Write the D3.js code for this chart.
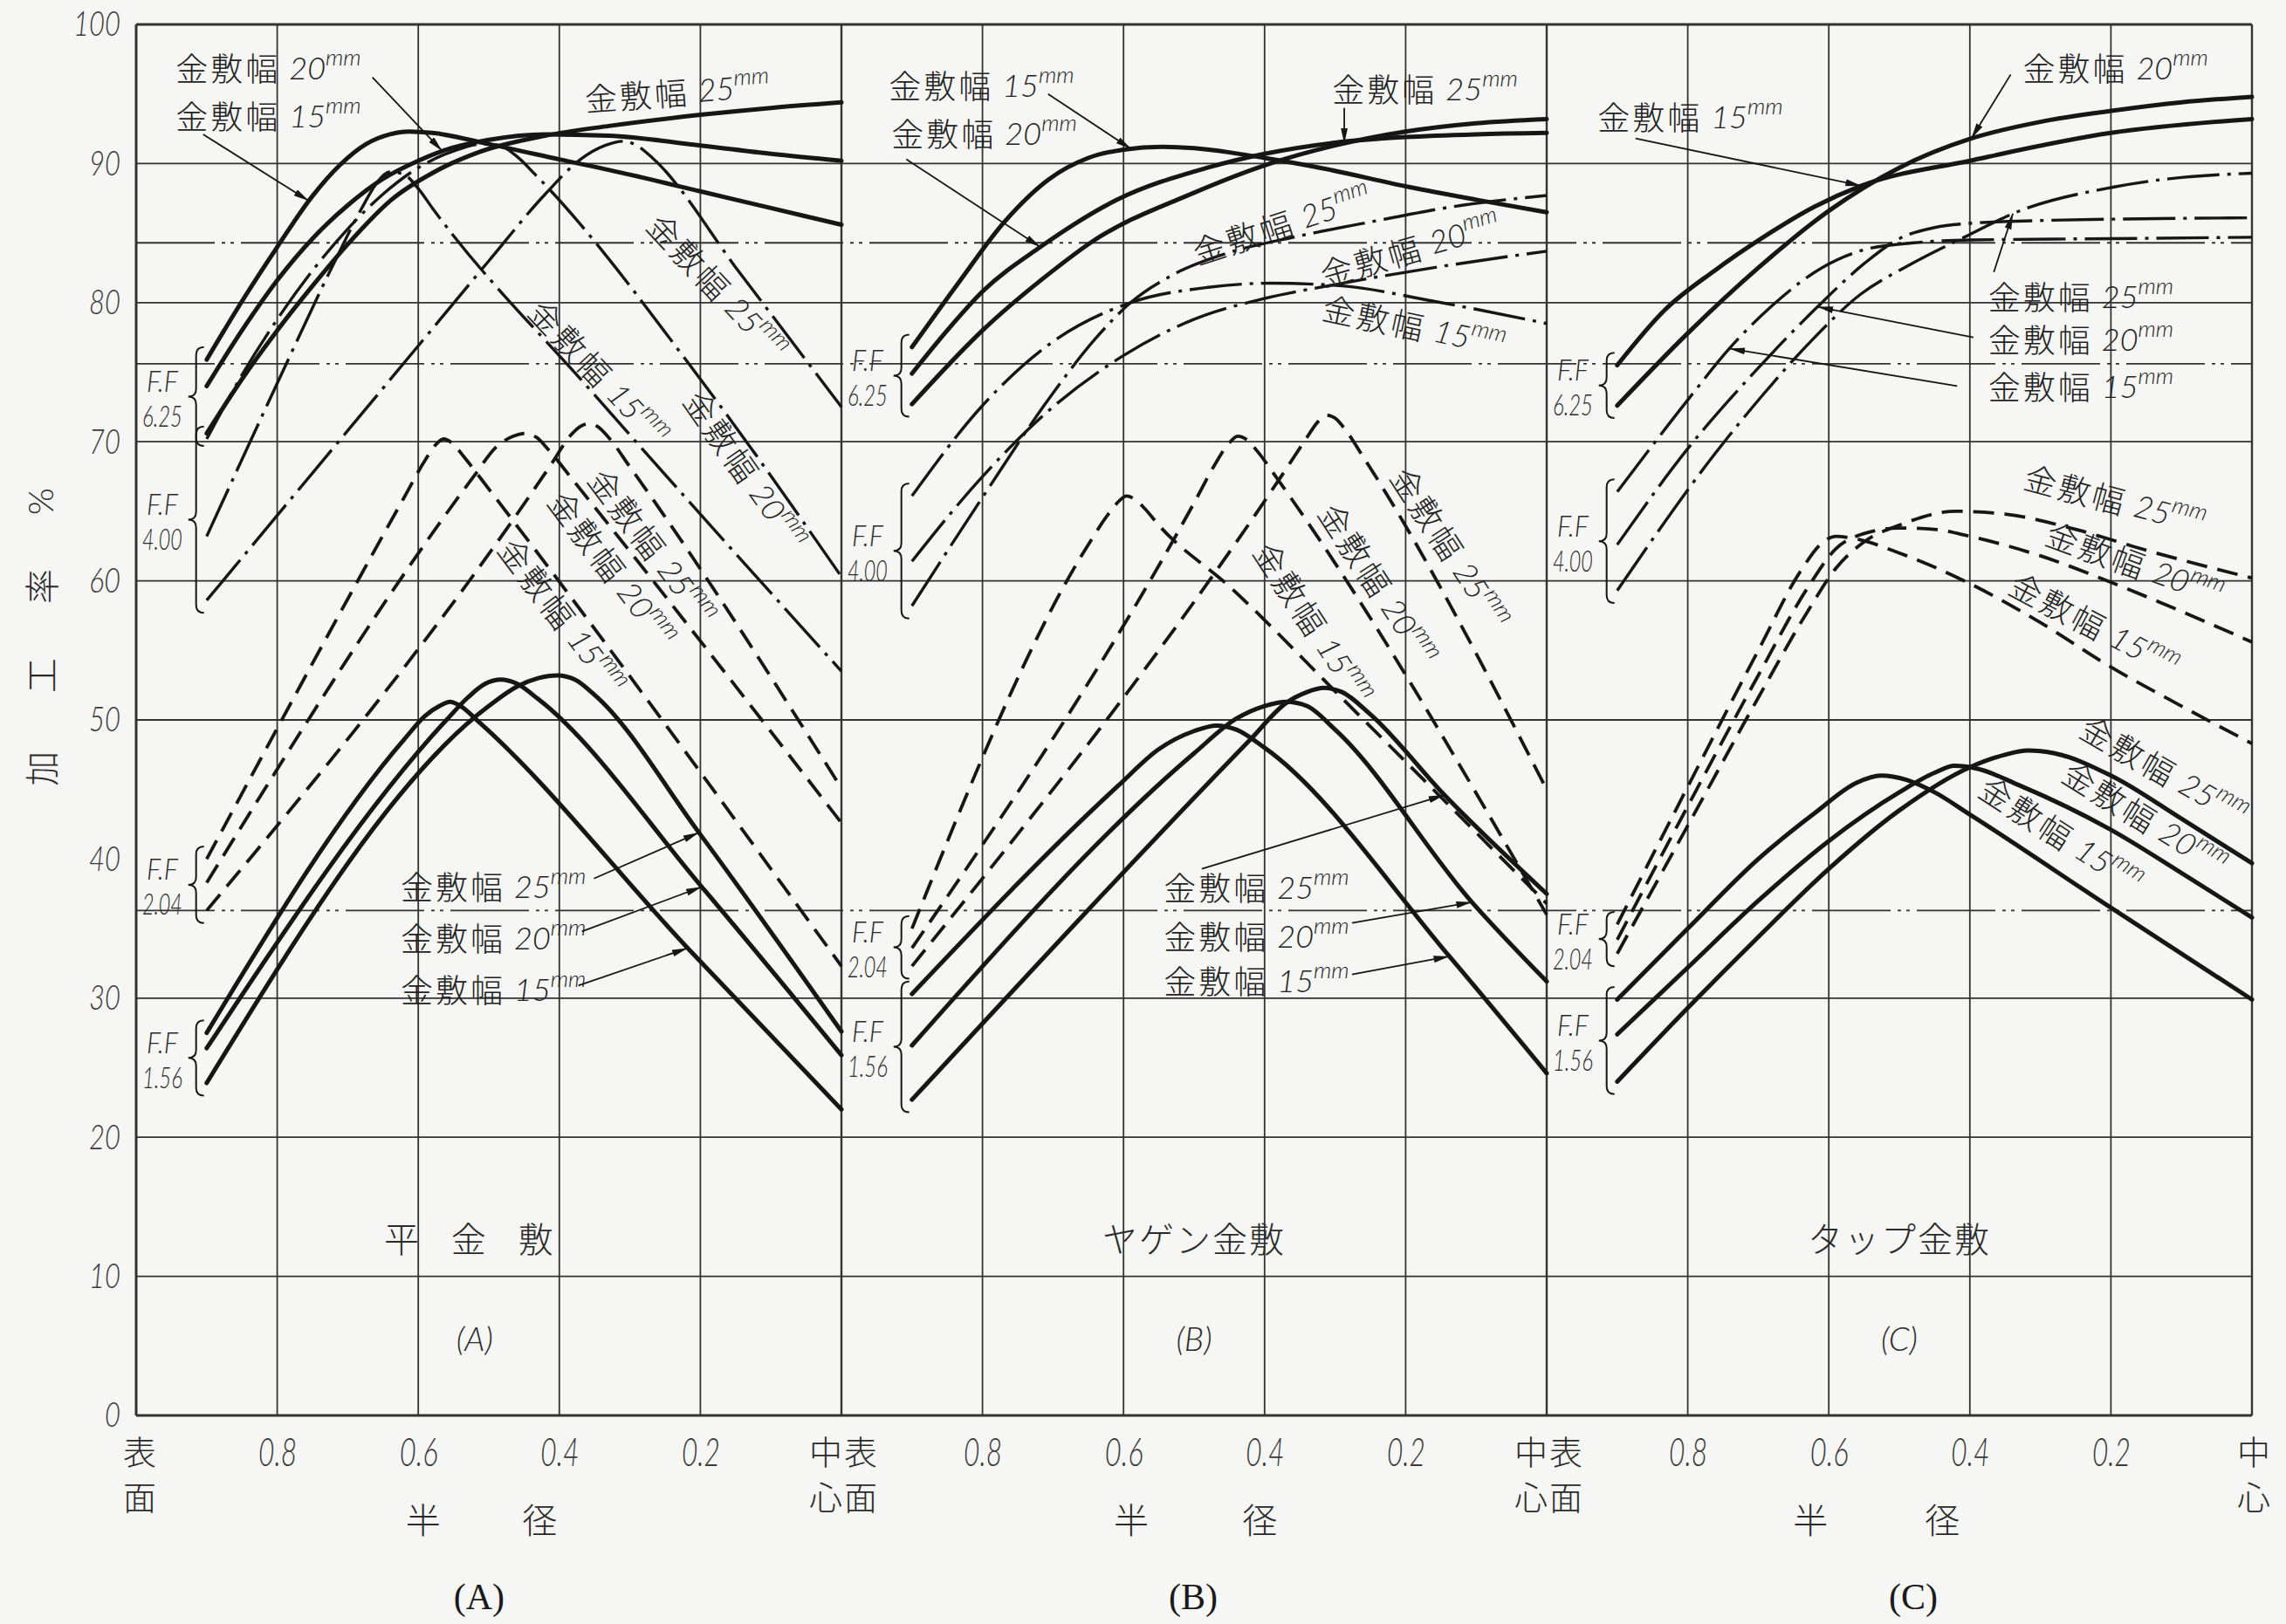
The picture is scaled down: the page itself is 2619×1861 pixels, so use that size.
<!DOCTYPE html>
<html><head><meta charset="utf-8">
<script src="https://cdn.jsdelivr.net/npm/d3@7"></script>
<style>
html,body{margin:0;padding:0;background:#f6f6f4;}
svg{display:block;}
</style></head><body>
<svg id="chart" width="2619" height="1861"></svg>
<script>
// ---------------- DATA (r = 半径比 1:表面 → 0:中心, v = 加工率 %) ----------------
const yTicks = [0,10,20,30,40,50,60,70,80,90,100];
const yTickLabels = ["0","10","20","30","40","50","60","70","80","90","100"];
const xTicks = [0.8,0.6,0.4,0.2];
const xTickLabels = ["0.8","0.6","0.4","0.2"];
const gridY = [10,20,30,50,60,70,80,90];
const refY = [84.3,75.6,36.3];
const panelTitles = ["平 金 敷","ヤゲン金敷","タップ金敷"];
const panelTags = ["(A)","(B)","(C)"];
const ffValues = ["6.25","4.00","2.04","1.56"];
const widthNames = ["15","20","25"];

// Panel A 平金敷
const A625_15 = [[0.9,75.9],[0.85,80.1],[0.8,84.0],[0.751,87.6],[0.711,89.9],[0.674,91.4],[0.64,92.1],[0.613,92.3],[0.58,92.2],[0.5,91.4],[0.4,90.3],[0.3,89.2],[0.2,88.0],[0.1,86.8],[0,85.6]];
const A625_20 = [[0.9,74.0],[0.85,78.0],[0.8,81.6],[0.75,84.6],[0.7,87.0],[0.65,88.9],[0.6,90.2],[0.566,90.9],[0.5,91.7],[0.42,92.1],[0.33,92.0],[0.2,91.3],[0.1,90.7],[0,90.2]];
const A625_25 = [[0.9,70.6],[0.85,74.5],[0.8,78.0],[0.75,81.2],[0.7,84.2],[0.638,87.4],[0.577,89.4],[0.515,90.8],[0.42,92.0],[0.33,92.7],[0.2,93.5],[0.1,94.0],[0,94.4]];
const A400_15 = [[0.9,63.2],[0.8,74.2],[0.72,82.8],[0.68,86.8],[0.656,88.8],[0.64,89.4],[0.62,89.2],[0.6,88.2],[0.58,86.8],[0.354,73.6],[0,53.5]];
const A400_20 = [[0.9,70.2],[0.85,74.8],[0.8,78.8],[0.75,82.3],[0.7,85.3],[0.65,87.8],[0.6,89.7],[0.55,90.9],[0.51,91.4],[0.485,91.3],[0.46,90.5],[0.434,89.2],[0.2,74.5],[0,60.3]];
const A400_25 = [[0.9,58.6],[0.8,64.7],[0.7,70.8],[0.6,76.9],[0.5,83.0],[0.42,87.8],[0.37,90.3],[0.335,91.3],[0.31,91.6],[0.29,91.3],[0.268,90.4],[0.145,82.2],[0,72.5]];
const A204_15 = [[0.9,40.0],[0.62,66.0],[0.59,68.7],[0.575,69.8],[0.564,70.2],[0.552,69.9],[0.535,68.9],[0.5,66.6],[0,32.3]];
const A204_20 = [[0.9,38.3],[0.52,67.6],[0.49,69.6],[0.465,70.4],[0.447,70.6],[0.432,70.3],[0.415,69.4],[0.38,67.2],[0,42.6]];
const A204_25 = [[0.9,36.3],[0.41,68.5],[0.385,70.4],[0.37,71.1],[0.358,71.3],[0.346,71.1],[0.33,70.3],[0.3,68.2],[0,45.1]];
const A156_15 = [[0.9,27.5],[0.62,48.6],[0.59,50.3],[0.57,51.0],[0.555,51.3],[0.54,51.0],[0.515,49.9],[0.218,33.6],[0,22.0]];
const A156_20 = [[0.9,26.4],[0.56,50.0],[0.53,51.6],[0.505,52.6],[0.483,52.9],[0.46,52.6],[0.43,51.5],[0.198,38.0],[0,25.9]];
const A156_25 = [[0.9,23.9],[0.5,51.0],[0.46,52.4],[0.43,53.0],[0.403,53.2],[0.378,52.9],[0.35,51.8],[0.202,41.9],[0,27.6]];

// Panel B ヤゲン金敷
const B625_15 = [[0.9,76.8],[0.833,81.5],[0.769,85.8],[0.705,88.9],[0.65,90.4],[0.6,91.0],[0.545,91.2],[0.5,91.1],[0.45,90.8],[0.4,90.4],[0.322,89.7],[0.194,88.3],[0.1,87.4],[0,86.5]];
const B625_20 = [[0.9,74.9],[0.85,78.0],[0.8,80.8],[0.718,84.0],[0.609,87.4],[0.481,89.7],[0.4,90.7],[0.3,91.5],[0.2,91.9],[0.1,92.1],[0,92.2]];
const B625_25 = [[0.9,72.7],[0.8,78.0],[0.7,82.3],[0.647,84.3],[0.5,87.9],[0.392,90.0],[0.3,91.3],[0.2,92.3],[0.1,92.9],[0,93.2]];
const B400_15 = [[0.9,66.1],[0.8,72.6],[0.7,77.2],[0.59,80.0],[0.48,81.1],[0.39,81.4],[0.29,81.2],[0.16,80.1],[0,78.5]];
const B400_20 = [[0.9,61.4],[0.8,67.5],[0.7,72.5],[0.6,76.2],[0.5,78.8],[0.4,80.3],[0.3,81.3],[0.15,82.6],[0,83.7]];
const B400_25 = [[0.9,58.2],[0.8,66.0],[0.7,73.5],[0.64,77.4],[0.59,80.0],[0.53,82.0],[0.45,83.6],[0.35,84.8],[0.25,85.8],[0.12,87.0],[0,87.7]];
const B204_15 = [[0.9,35.0],[0.65,62.6],[0.62,64.9],[0.605,65.8],[0.596,66.1],[0.585,65.9],[0.57,65.2],[0.55,64.0],[0.45,59.6],[0.287,51.4],[0,36.8]];
const B204_20 = [[0.9,33.6],[0.5,65.6],[0.47,68.4],[0.452,69.8],[0.438,70.4],[0.424,70.1],[0.41,69.3],[0.38,67.2],[0,36.0]];
const B204_25 = [[0.9,32.3],[0.37,68.0],[0.34,70.3],[0.325,71.4],[0.312,71.9],[0.3,71.7],[0.286,70.9],[0.26,68.9],[0,45.0]];
const B156_15 = [[0.9,30.3],[0.607,45.3],[0.55,47.9],[0.5,49.2],[0.468,49.6],[0.44,49.3],[0.4,48.0],[0.138,33.0],[0,24.6]];
const B156_20 = [[0.9,26.6],[0.5,47.6],[0.44,50.1],[0.4,51.0],[0.369,51.3],[0.34,51.0],[0.3,49.3],[0.106,36.9],[0,31.2]];
const B156_25 = [[0.9,22.7],[0.42,48.6],[0.37,51.2],[0.34,52.0],[0.316,52.3],[0.29,52.0],[0.25,50.4],[0.145,44.6],[0,37.5]];

// Panel C タップ金敷
const C625_15 = [[0.9,75.5],[0.832,79.5],[0.762,82.3],[0.693,84.7],[0.62,86.9],[0.554,88.4],[0.4,90.2],[0.2,92.2],[0,93.2]];
const C625_20 = [[0.9,72.6],[0.8,77.8],[0.7,82.5],[0.6,86.6],[0.5,89.7],[0.398,91.8],[0.3,93.0],[0.197,93.8],[0.1,94.4],[0,94.8]];
const C400_15 = [[0.9,66.4],[0.8,73.0],[0.741,76.7],[0.68,79.8],[0.61,82.5],[0.55,83.8],[0.48,84.3],[0.4,84.5],[0.2,84.6],[0,84.7]];
const C400_20 = [[0.9,62.6],[0.8,69.5],[0.7,75.3],[0.616,79.7],[0.55,82.8],[0.5,84.6],[0.45,85.4],[0.4,85.7],[0.3,85.9],[0.2,86.0],[0,86.1]];
const C400_25 = [[0.9,59.3],[0.762,69.1],[0.693,73.4],[0.624,77.3],[0.555,80.6],[0.486,82.7],[0.4,84.9],[0.339,86.4],[0.197,88.3],[0.1,89.0],[0,89.3]];
const C204_15 = [[0.9,35.3],[0.8,45.2],[0.7,55.0],[0.64,60.7],[0.61,62.7],[0.59,63.2],[0.56,63.0],[0.5,62.0],[0.4,59.8],[0.3,57.0],[0.2,53.8],[0.1,51.0],[0,48.3]];
const C204_20 = [[0.9,34.2],[0.8,43.8],[0.7,53.2],[0.63,59.5],[0.59,62.3],[0.55,63.4],[0.5,63.8],[0.45,63.7],[0.4,63.2],[0.3,61.8],[0.2,59.9],[0.1,57.8],[0,55.6]];
const C204_25 = [[0.9,33.2],[0.8,42.4],[0.7,51.6],[0.63,57.8],[0.59,60.9],[0.55,62.8],[0.5,64.0],[0.42,65.0],[0.35,64.8],[0.25,63.7],[0.15,62.2],[0,60.2]];
const C156_15 = [[0.9,29.9],[0.8,35.0],[0.7,40.0],[0.62,43.3],[0.56,45.5],[0.526,46.0],[0.49,45.7],[0.45,44.8],[0.4,43.2],[0.2,36.5],[0,29.9]];
const C156_20 = [[0.9,27.4],[0.8,32.2],[0.7,37.0],[0.6,41.3],[0.5,44.8],[0.45,46.2],[0.422,46.7],[0.39,46.5],[0.33,45.3],[0.2,42.1],[0.1,39.0],[0,35.8]];
const C156_25 = [[0.9,24.0],[0.8,29.3],[0.7,34.4],[0.6,39.3],[0.5,43.5],[0.4,46.6],[0.35,47.5],[0.318,47.8],[0.28,47.6],[0.2,46.0],[0.1,42.9],[0,39.7]];

// ---------------- LAYOUT ----------------
const LEFT = 156, PANEL_W = 808, TOP = 28, BOTTOM = 1622;
const INK = "#161616", GRID = "#333333";
const CJK = "'Noto Sans CJK JP','Noto Sans CJK SC',sans-serif";
const NUM = "'Lato','DejaVu Sans',sans-serif";

const svg = d3.select("#chart");
svg.append("rect").attr("width",2619).attr("height",1861).attr("fill","#f6f6f4");

const y = d3.scaleLinear().domain([0,100]).range([BOTTOM, TOP]);
const xs = [0,1,2].map(k => d3.scaleLinear().domain([1,0]).range([LEFT + k*PANEL_W, LEFT + (k+1)*PANEL_W]));
const P = (k, r, v) => [xs[k](r), y(v)];

const defs = svg.append("defs");
defs.append("marker").attr("id","ah").attr("viewBox","0 0 18 8").attr("refX",18).attr("refY",4)
  .attr("markerWidth",18).attr("markerHeight",8).attr("markerUnits","userSpaceOnUse").attr("orient","auto")
  .append("path").attr("d","M0,0 L18,4 L0,8 Z").attr("fill",INK);

// ---------------- GRID ----------------
const gGrid = svg.append("g");
const xRight = xs[2](0);
gridY.forEach(v => gGrid.append("line").attr("x1",LEFT).attr("x2",xRight).attr("y1",y(v)).attr("y2",y(v))
  .attr("stroke",GRID).attr("stroke-width",1.8));
refY.forEach(v => gGrid.append("line").attr("x1",LEFT).attr("x2",xRight).attr("y1",y(v)).attr("y2",y(v))
  .attr("stroke",GRID).attr("stroke-width",1.8).attr("stroke-dasharray","90,8,4,6,4,8"));
[0,100].forEach(v => gGrid.append("line").attr("x1",LEFT).attr("x2",xRight).attr("y1",y(v)).attr("y2",y(v))
  .attr("stroke",GRID).attr("stroke-width",3));
[0,1,2].forEach(k => {
  xTicks.forEach(r => gGrid.append("line").attr("x1",xs[k](r)).attr("x2",xs[k](r)).attr("y1",y(0)).attr("y2",y(100))
    .attr("stroke",GRID).attr("stroke-width",1.8));
  gGrid.append("line").attr("x1",xs[k](0)).attr("x2",xs[k](0)).attr("y1",y(0)).attr("y2",y(100))
    .attr("stroke",GRID).attr("stroke-width",2.4);
});
gGrid.append("line").attr("x1",xs[0](1)).attr("x2",xs[0](1)).attr("y1",y(0)).attr("y2",y(100))
  .attr("stroke",GRID).attr("stroke-width",3);

// ---------------- AXES ----------------
const yAxis = svg.append("g").attr("transform",`translate(${LEFT},0)`)
  .call(d3.axisLeft(y).tickValues(yTicks).tickFormat((d,i)=>yTickLabels[i]).tickSize(0).tickPadding(18));
yAxis.select(".domain").remove();
yAxis.selectAll("text").attr("font-family",NUM).attr("font-style","italic").attr("font-weight",300)
  .attr("font-size",40).attr("fill","#3a3a3a")
  .attr("textLength",function(){return this.textContent.length*18;}).attr("lengthAdjust","spacingAndGlyphs");

[0,1,2].forEach(k => {
  const ax = svg.append("g").attr("transform",`translate(0,${BOTTOM})`)
    .call(d3.axisBottom(xs[k]).tickValues(xTicks).tickFormat((d,i)=>xTickLabels[i]).tickSize(0).tickPadding(25));
  ax.select(".domain").remove();
  ax.selectAll("text").attr("font-family",NUM).attr("font-style","italic").attr("font-weight",300)
    .attr("font-size",46).attr("fill","#3a3a3a").attr("textLength",44).attr("lengthAdjust","spacingAndGlyphs");
});

const gText = svg.append("g").attr("fill",INK);
function cjk(x, yy, s, size, extra) {
  const t = gText.append("text").attr("x",x).attr("y",yy).attr("font-family",CJK).attr("font-size",size)
    .attr("font-weight",300).attr("text-anchor","middle").attr("dominant-baseline","central").attr("fill","#2a2a2a").text(s);
  if (extra) extra(t);
  return t;
}
// 表面 / 中心 labels on the radius axis
const surfaceLabel = ["表","面"], centerLabel = ["中","心"];
[0,1,2].forEach(k => {
  const xl = xs[k](1), xc = xs[k](0);
  surfaceLabel.forEach((c,i) => cjk(xl + (k===0 ? 4 : 22), 1661 + i*52, c, 38));
  centerLabel.forEach((c,i) => cjk(xc + (k===2 ? 2 : -18), 1661 + i*52, c, 38));
});
// 半 径
const radiusLabelPos = [[0.593,0.428],[0.589,0.407],[0.626,0.439]];
[0,1,2].forEach(k => {
  cjk(xs[k](radiusLabelPos[k][0]), 1740, "半", 40);
  cjk(xs[k](radiusLabelPos[k][1]), 1740, "径", 40);
});
// y label 加工率 %
const yLabelChars = ["加","工","率","%"];
const yLabelV = [46.5, 53.2, 59.6, 65.7];
yLabelChars.forEach((c,i) => {
  gText.append("text").attr("transform",`translate(46,${y(yLabelV[i])}) rotate(-90)`)
    .attr("font-family", c==="%" ? NUM : CJK).attr("font-size",40).attr("font-weight",300).attr("text-anchor","middle")
    .attr("dominant-baseline","central").attr("fill","#2a2a2a").text(c);
});
// panel titles and tags
const titleR = [0.52,0.5,0.5];
const bottomTagShift = [5,-1,16];
[0,1,2].forEach(k => {
  cjk(xs[k](titleR[k]), y(12.8), panelTitles[k], 40, t => t.attr("letter-spacing", k===0 ? 14 : 2));
  gText.append("text").attr("x",xs[k](titleR[k])).attr("y",y(5.6)).attr("font-family",NUM).attr("font-style","italic")
    .attr("font-weight",300).attr("font-size",38).attr("text-anchor","middle").attr("dominant-baseline","central")
    .attr("fill","#2a2a2a").text(panelTags[k]);
  gText.append("text").attr("x",xs[k](titleR[k]) + bottomTagShift[k]).attr("y",1830)
    .attr("font-family","'Liberation Serif','DejaVu Serif',serif").attr("font-size",42)
    .attr("text-anchor","middle").attr("dominant-baseline","central").attr("fill","#1a1a1a").text(panelTags[k]);
});

// ---------------- CURVES ----------------
const styles = {
  thick:   {w:5.0, dash:null},
  dashdot: {w:3.4, dash:"60,9,4,9"},
  dash:    {w:3.8, dash:"24,12"}
};
const series = [
  {k:0,ff:0,w:"15",d:A625_15,s:"thick"},{k:0,ff:0,w:"20",d:A625_20,s:"thick"},{k:0,ff:0,w:"25",d:A625_25,s:"thick"},
  {k:0,ff:1,w:"15",d:A400_15,s:"dashdot"},{k:0,ff:1,w:"20",d:A400_20,s:"dashdot"},{k:0,ff:1,w:"25",d:A400_25,s:"dashdot"},
  {k:0,ff:2,w:"15",d:A204_15,s:"dash"},{k:0,ff:2,w:"20",d:A204_20,s:"dash"},{k:0,ff:2,w:"25",d:A204_25,s:"dash"},
  {k:0,ff:3,w:"15",d:A156_15,s:"thick"},{k:0,ff:3,w:"20",d:A156_20,s:"thick"},{k:0,ff:3,w:"25",d:A156_25,s:"thick"},
  {k:1,ff:0,w:"15",d:B625_15,s:"thick"},{k:1,ff:0,w:"20",d:B625_20,s:"thick"},{k:1,ff:0,w:"25",d:B625_25,s:"thick"},
  {k:1,ff:1,w:"15",d:B400_15,s:"dashdot"},{k:1,ff:1,w:"20",d:B400_20,s:"dashdot"},{k:1,ff:1,w:"25",d:B400_25,s:"dashdot"},
  {k:1,ff:2,w:"15",d:B204_15,s:"dash"},{k:1,ff:2,w:"20",d:B204_20,s:"dash"},{k:1,ff:2,w:"25",d:B204_25,s:"dash"},
  {k:1,ff:3,w:"15",d:B156_15,s:"thick"},{k:1,ff:3,w:"20",d:B156_20,s:"thick"},{k:1,ff:3,w:"25",d:B156_25,s:"thick"},
  {k:2,ff:0,w:"15",d:C625_15,s:"thick"},{k:2,ff:0,w:"20",d:C625_20,s:"thick"},
  {k:2,ff:1,w:"15",d:C400_15,s:"dashdot"},{k:2,ff:1,w:"20",d:C400_20,s:"dashdot"},{k:2,ff:1,w:"25",d:C400_25,s:"dashdot"},
  {k:2,ff:2,w:"15",d:C204_15,s:"dash"},{k:2,ff:2,w:"20",d:C204_20,s:"dash"},{k:2,ff:2,w:"25",d:C204_25,s:"dash"},
  {k:2,ff:3,w:"15",d:C156_15,s:"thick"},{k:2,ff:3,w:"20",d:C156_20,s:"thick"},{k:2,ff:3,w:"25",d:C156_25,s:"thick"}
];
const gCurves = svg.append("g").attr("fill","none").attr("stroke",INK).attr("stroke-linecap","round");
series.forEach(sr => {
  const gen = d3.line().x(d => xs[sr.k](d[0])).y(d => y(d[1])).curve(d3.curveMonotoneX);
  const st = styles[sr.s];
  const p = gCurves.append("path").attr("d", gen(sr.d)).attr("stroke-width", st.w);
  if (st.dash) p.attr("stroke-dasharray", st.dash).attr("stroke-linecap","butt");
});

// ---------------- F.F braces ----------------
const gBr = svg.append("g").attr("fill","none").attr("stroke",INK).attr("stroke-width",2);
[0,1,2].forEach(k => {
  [0,1,2,3].forEach(ff => {
    const starts = series.filter(s => s.k===k && s.ff===ff).map(s => s.d[0][1]);
    if (!starts.length) return;
    const vTop = d3.max(starts) + 0.9, vBot = d3.min(starts) - 0.9;
    const x = xs[k](0.915), y1 = y(vTop), y2 = y(vBot), m = (y1+y2)/2, w = 9;
    gBr.append("path").attr("d",
      `M${x+w},${y1} Q${x},${y1} ${x},${y1+w} L${x},${m-w} Q${x},${m} ${x-w},${m} Q${x},${m} ${x},${m+w} L${x},${y2-w} Q${x},${y2} ${x+w},${y2}`);
    const lx = xs[k](0.963);
    gText.append("text").attr("x",lx).attr("y",m-19).attr("font-family",NUM).attr("font-style","italic").attr("font-weight",300)
      .attr("font-size",34).attr("text-anchor","middle").attr("dominant-baseline","central").attr("fill","#2a2a2a")
      .attr("textLength",36).attr("lengthAdjust","spacingAndGlyphs").text("F.F");
    gText.append("text").attr("x",lx).attr("y",m+21).attr("font-family",NUM).attr("font-style","italic").attr("font-weight",300)
      .attr("font-size",34).attr("text-anchor","middle").attr("dominant-baseline","central").attr("fill","#2a2a2a")
      .attr("textLength",46).attr("lengthAdjust","spacingAndGlyphs").text(ffValues[ff]);
  });
});

// ---------------- LABELS ----------------
const gLab = svg.append("g");
function mmLabel(p) {
  const [px, py] = P(p.k, p.r, p.v);
  const t = gLab.append("text").attr("transform",`translate(${px},${py}) rotate(${p.a||0})`)
    .attr("text-anchor", p.anchor || "middle").attr("dominant-baseline","central").attr("fill","#222");
  t.append("tspan").attr("font-family",CJK).attr("font-weight",300).attr("font-size",37).attr("letter-spacing",3).text("金敷幅");
  t.append("tspan").attr("font-family",NUM).attr("font-style","italic").attr("font-weight",300).attr("font-size",36).attr("dx",10).text(p.w);
  t.append("tspan").attr("font-family",NUM).attr("font-style","italic").attr("font-weight",300).attr("font-size",26).attr("dy",-12).text("mm");
}
const labels = [
  {k:0,r:0.944,v:96.9,w:"20",anchor:"start"},{k:0,r:0.944,v:93.5,w:"15",anchor:"start"},
  {k:0,r:0.233,v:95.2,a:-4,w:"25"},
  {k:0,r:0.175,v:81.2,a:47,w:"25"},{k:0,r:0.343,v:75.0,a:47,w:"15"},{k:0,r:0.135,v:68.0,a:55,w:"20"},
  {k:0,r:0.267,v:62.5,a:53,w:"25"},{k:0,r:0.324,v:60.9,a:53,w:"20"},{k:0,r:0.395,v:57.5,a:53,w:"15"},
  {k:0,r:0.625,v:38.1,w:"25",anchor:"start"},{k:0,r:0.625,v:34.4,w:"20",anchor:"start"},{k:0,r:0.625,v:30.7,w:"15",anchor:"start"},
  {k:1,r:0.933,v:95.7,w:"15",anchor:"start"},{k:1,r:0.929,v:92.2,w:"20",anchor:"start"},{k:1,r:0.304,v:95.4,w:"25",anchor:"start"},
  {k:1,r:0.376,v:85.7,a:-18,w:"25"},{k:1,r:0.194,v:83.9,a:-16,w:"20"},{k:1,r:0.188,v:78.4,a:12,w:"15"},
  {k:1,r:0.136,v:62.4,a:57,w:"25"},{k:1,r:0.238,v:59.8,a:57,w:"20"},{k:1,r:0.330,v:57.0,a:57,w:"15"},
  {k:1,r:0.543,v:38.0,w:"25",anchor:"start"},{k:1,r:0.543,v:34.5,w:"20",anchor:"start"},{k:1,r:0.543,v:31.3,w:"15",anchor:"start"},
  {k:2,r:0.325,v:96.9,w:"20",anchor:"start"},{k:2,r:0.928,v:93.4,w:"15",anchor:"start"},
  {k:2,r:0.374,v:80.5,w:"25",anchor:"start"},{k:2,r:0.374,v:77.4,w:"20",anchor:"start"},{k:2,r:0.374,v:74.0,w:"15",anchor:"start"},
  {k:2,r:0.194,v:65.9,a:15,w:"25"},{k:2,r:0.166,v:61.3,a:20,w:"20"},{k:2,r:0.223,v:56.9,a:28,w:"15"},
  {k:2,r:0.124,v:46.4,a:30,w:"25"},{k:2,r:0.151,v:43.0,a:32,w:"20"},{k:2,r:0.270,v:41.8,a:33,w:"15"}
];
labels.forEach(mmLabel);

// ---------------- ARROWS ----------------
function valueAt(d, r) {
  for (let i = 0; i < d.length-1; i++) {
    const [r0,v0] = d[i], [r1,v1] = d[i+1];
    if (r <= r0 && r >= r1) return v0 + (v1-v0)*(r0-r)/(r0-r1);
  }
  return d[d.length-1][1];
}
const arrows = [
  {k:0,fr:0.665,fv:96.2,d:A625_20,at:0.566},{k:0,fr:0.905,fv:92.1,d:A625_15,at:0.755},
  {k:0,fr:0.351,fv:38.6,d:A156_25,at:0.202},{k:0,fr:0.368,fv:34.8,d:A156_20,at:0.198},{k:0,fr:0.373,fv:30.9,d:A156_15,at:0.218},
  {k:1,fr:0.707,fv:95.0,d:B625_15,at:0.589},{k:1,fr:0.908,fv:90.3,d:B625_20,at:0.718},{k:1,fr:0.287,fv:94.0,d:B625_25,at:0.287},
  {k:1,fr:0.489,fv:39.3,d:B156_25,at:0.145},{k:1,fr:0.276,fv:35.4,d:B156_20,at:0.106},{k:1,fr:0.276,fv:31.7,d:B156_15,at:0.138},
  {k:2,fr:0.342,fv:96.4,d:C625_20,at:0.398},{k:2,fr:0.874,fv:91.8,d:C625_15,at:0.554},
  {k:2,fr:0.366,fv:82.2,d:C400_25,at:0.339},{k:2,fr:0.395,fv:77.5,d:C400_20,at:0.616},{k:2,fr:0.418,fv:74.0,d:C400_15,at:0.741}
];
const gAr = svg.append("g").attr("stroke",INK).attr("stroke-width",1.8).attr("fill","none");
arrows.forEach(a => {
  const [x1,y1] = P(a.k, a.fr, a.fv);
  const [x2,y2] = P(a.k, a.at, valueAt(a.d, a.at));
  gAr.append("line").attr("x1",x1).attr("y1",y1).attr("x2",x2).attr("y2",y2).attr("marker-end","url(#ah)");
});
</script></body></html>
